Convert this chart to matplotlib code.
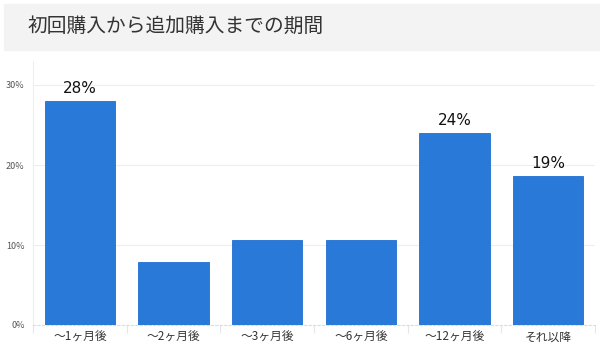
import matplotlib.pyplot as plt
from matplotlib.patches import Rectangle
from matplotlib.ticker import FuncFormatter

plt.rcParams['font.family'] = ['Noto Sans CJK JP', 'DejaVu Sans']

categories = ['～1ヶ月後', '～2ヶ月後', '～3ヶ月後', '～6ヶ月後', '～12ヶ月後', 'それ以降']
values = [28.0, 7.9, 10.6, 10.6, 24.0, 18.6]
labels = ['28%', '', '', '', '24%', '19%']

fig = plt.figure(figsize=(6, 3.63), dpi=100)

# title band
fig.patches.append(Rectangle((4 / 600, 1 - 50 / 363), 596 / 600, 46 / 363,
                             transform=fig.transFigure, color='#f3f3f3', zorder=0))
fig.text(28 / 600, 1 - 26 / 363, '初回購入から追加購入までの期間', fontsize=14.2,
         color='#333333', va='center', ha='left')

ax = fig.add_axes([33 / 600, 1 - 325 / 363, 562 / 600, 264 / 363])
x = range(len(categories))
bars = ax.bar(x, values, width=0.75, color='#2979d9', edgecolor='#1e6fd0',
              linewidth=0.6, zorder=3)

for b, lab in zip(bars, labels):
    if lab:
        ax.text(b.get_x() + b.get_width() / 2, b.get_height() + 0.6, lab,
                ha='center', va='bottom', fontsize=11, color='#111111',
                family='DejaVu Sans')

ax.set_xlim(-0.5, 5.47)
ax.set_ylim(0, 33)
ax.set_yticks([0, 10, 20, 30])
ax.yaxis.set_major_formatter(FuncFormatter(lambda v, p: f'{v:.0f}%'))
ax.set_xticks(x)
ax.set_xticklabels(categories, fontsize=8.5, color='#333333')
ax.set_xticks([i + 0.5 for i in range(-1, 6)], minor=True)
ax.tick_params(axis='x', which='major', length=0, pad=4)
ax.tick_params(axis='x', which='minor', length=6, color='#e6e6e6', width=0.8)
ax.tick_params(axis='y', length=0, labelsize=6.5, labelcolor='#555555', pad=6)
ax.grid(axis='y', color='#eeeeee', linewidth=0.8, zorder=0)

for s in ['top', 'right']:
    ax.spines[s].set_visible(False)
ax.spines['left'].set_color('#eeeeee')
ax.spines['bottom'].set_color('#dddddd')
ax.spines['bottom'].set_linestyle((0, (2, 2)))

fig.savefig('out.png', dpi=100)
